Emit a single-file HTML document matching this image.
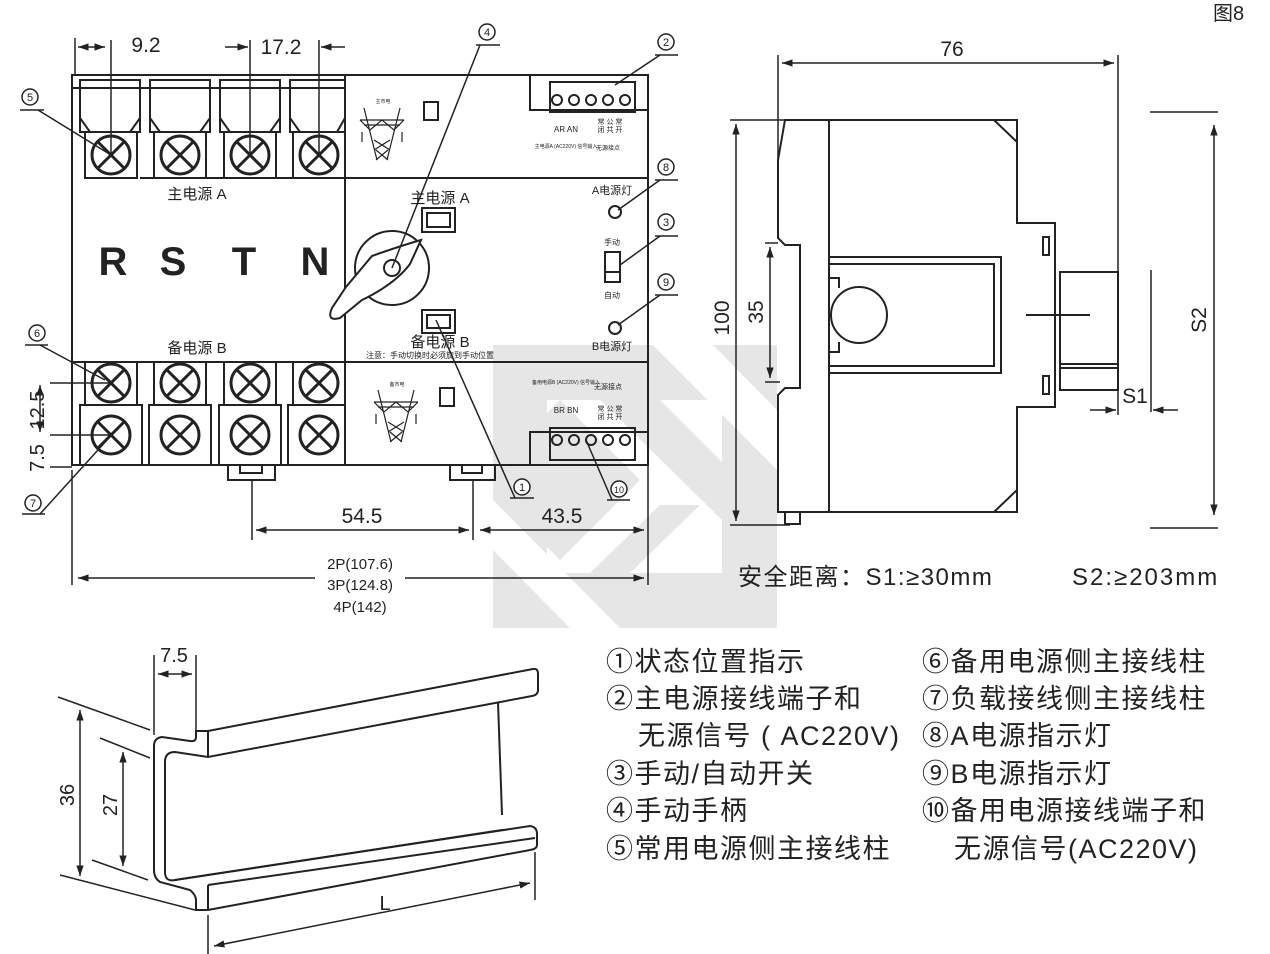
<!DOCTYPE html>
<html><head><meta charset="utf-8"><style>
html,body{margin:0;padding:0;background:#fff}
svg{display:block}
text{font-family:"Liberation Sans","Noto Sans CJK SC",sans-serif;fill:#222}
</style></head><body>
<svg width="1270" height="954" viewBox="0 0 1270 954" xmlns="http://www.w3.org/2000/svg">
<defs>
<marker id="a" viewBox="0 0 10 10" refX="10" refY="5" markerWidth="7" markerHeight="7" orient="auto-start-reverse"><path d="M0,1.5 L10,5 L0,8.5 z" fill="#222"/></marker>
<g id="term"><circle r="19" fill="none" stroke="#222" stroke-width="3"/><path d="M-13,-13 L13,13 M13,-13 L-13,13" stroke="#222" stroke-width="3"/></g>
<g id="tower" stroke="#222" stroke-width="1.2" fill="none"><path d="M-18,-22 L-5,30 M18,-22 L5,30 M-22,-10 L22,-10 M-18,-5 L18,-5 M-22,-10 L-12,0 L0,-10 L12,0 L22,-10 M-8,10 L8,20 M8,10 L-8,20 M-6,20 L6,30 M6,20 L-6,30 M-20,2 v10 M20,2 v10"/></g>
</defs>

<!-- watermark -->
<rect x="493" y="345" width="284" height="283" fill="#e6e6e6"/>
<path d="M547,400 L722,400 L722,573 L547,573 z" fill="#fff"/>
<path d="M653,345 L713,345 L777,410 L777,470 Z" fill="#fff"/>
<path d="M560,400 L640,480 L560,560 L547,547 L547,413 Z" fill="#e6e6e6"/>
<path d="M600,400 L660,400 L722,462 L722,520 Z" fill="#e6e6e6"/>
<path d="M590,573 L660,505 L700,505 L630,573 Z" fill="#e6e6e6"/>
<path d="M493,500 L620,628 L570,628 L493,550 Z" fill="#fff"/>

<text x="1213" y="20" font-size="20">图8</text>

<g stroke="#222" stroke-width="2" fill="none">
<!-- front panel -->
<rect x="72" y="75" width="576" height="390"/>
<line x1="345" y1="75" x2="345" y2="465"/>
<line x1="345" y1="178" x2="648" y2="178"/>
<line x1="140" y1="178" x2="345" y2="178"/>
<line x1="72" y1="362" x2="648" y2="362"/>
<line x1="72" y1="88" x2="345" y2="88"/>
<!-- top terminal housings -->
<g>
<rect x="80" y="80" width="60" height="52"/><rect x="150" y="80" width="60" height="52"/><rect x="220" y="80" width="60" height="52"/><rect x="290" y="80" width="55" height="52"/>
<path d="M80,118 L90,132 M140,118 L130,132 M150,118 L160,132 M210,118 L200,132 M220,118 L230,132 M280,118 L270,132 M290,118 L300,132 M345,118 L337,132"/>
<rect x="85" y="132" width="52" height="46"/><rect x="154" y="132" width="52" height="46"/><rect x="224" y="132" width="52" height="46"/><rect x="293" y="132" width="52" height="46"/>
</g>
<!-- bottom terminals -->
<rect x="85" y="362" width="52" height="43"/><rect x="154" y="362" width="52" height="43"/><rect x="224" y="362" width="52" height="43"/><rect x="293" y="362" width="52" height="43"/>
<rect x="80" y="405" width="62" height="60"/><rect x="149" y="405" width="62" height="60"/><rect x="219" y="405" width="62" height="60"/><rect x="288" y="405" width="57" height="60"/>
<!-- feet -->
<path d="M228,465 v15 h47 v-15 M240,465 v8 h22 v-8"/>
<path d="M450,465 v15 h45 v-15 M462,465 v8 h20 v-8"/>
<!-- right top connector -->
<rect x="530" y="75" width="118" height="35"/>
<rect x="550" y="82" width="85" height="30"/>
<rect x="530" y="432" width="118" height="33"/>
<rect x="550" y="428" width="85" height="32"/>
<!-- windows -->
<rect x="422" y="208" width="33" height="24"/><rect x="427" y="213" width="23" height="14"/>
<rect x="422" y="310" width="33" height="23"/><rect x="427" y="315" width="23" height="13"/>
<!-- knob -->
<circle cx="392" cy="268" r="37"/>
<path d="M421,240 Q400,246 372,256 L346,287 L332,308 Q326,322 340,318 L362,300 Q395,284 410,264 Z" fill="#fff"/>
<circle cx="392" cy="268" r="8"/>
<!-- indicators -->
<circle cx="615" cy="212" r="6"/><circle cx="615" cy="328" r="6"/>
<rect x="605" y="252" width="15" height="30"/><line x1="605" y1="272" x2="620" y2="272"/>
<rect x="424" y="102" width="14" height="18"/><rect x="440" y="388" width="14" height="18"/>
</g>
<g fill="none" stroke="#222" stroke-width="2">
<circle cx="557" cy="100" r="5"/><circle cx="574" cy="100" r="5"/><circle cx="591" cy="100" r="5"/><circle cx="608" cy="100" r="5"/><circle cx="625" cy="100" r="5"/>
<circle cx="557" cy="440" r="5"/><circle cx="574" cy="440" r="5"/><circle cx="591" cy="440" r="5"/><circle cx="608" cy="440" r="5"/><circle cx="625" cy="440" r="5"/>
</g>
<use href="#term" x="111" y="155"/><use href="#term" x="180" y="155"/><use href="#term" x="250" y="155"/><use href="#term" x="319" y="155"/>
<use href="#term" x="111" y="383"/><use href="#term" x="180" y="383"/><use href="#term" x="250" y="383"/><use href="#term" x="319" y="383"/>
<use href="#term" x="111" y="435"/><use href="#term" x="180" y="435"/><use href="#term" x="250" y="435"/><use href="#term" x="319" y="435"/>
<use href="#tower" x="382" y="130"/><use href="#tower" x="396" y="412"/>

<text x="113" y="275" font-size="40" font-weight="bold" text-anchor="middle">R</text>
<text x="173" y="275" font-size="40" font-weight="bold" text-anchor="middle">S</text>
<text x="244" y="275" font-size="40" font-weight="bold" text-anchor="middle">T</text>
<text x="315" y="275" font-size="40" font-weight="bold" text-anchor="middle">N</text>
<text x="197" y="199" font-size="15" text-anchor="middle">主电源 A</text>
<text x="197" y="353" font-size="15" text-anchor="middle">备电源 B</text>
<text x="440" y="203" font-size="15" text-anchor="middle">主电源 A</text>
<text x="440" y="347" font-size="15" text-anchor="middle">备电源 B</text>
<text x="430" y="358" font-size="8" text-anchor="middle">注意：手动切换时必须旋到手动位置</text>
<text x="612" y="194" font-size="11" text-anchor="middle">A电源灯</text>
<text x="612" y="350" font-size="11" text-anchor="middle">B电源灯</text>
<text x="612" y="245" font-size="8" text-anchor="middle">手动</text>
<text x="612" y="298" font-size="8" text-anchor="middle">自动</text>
<text x="566" y="132" font-size="8" text-anchor="middle">AR AN</text>
<text x="610" y="124" font-size="7" text-anchor="middle">常 公 常</text>
<text x="610" y="132" font-size="7" text-anchor="middle">闭 共 开</text>
<text x="566" y="148" font-size="5" text-anchor="middle">主电源A (AC220V) 信号输入</text>
<text x="608" y="150" font-size="6" text-anchor="middle">无源接点</text>
<text x="566" y="413" font-size="8" text-anchor="middle">BR BN</text>
<text x="610" y="411" font-size="7" text-anchor="middle">常 公 常</text>
<text x="610" y="419" font-size="7" text-anchor="middle">闭 共 开</text>
<text x="566" y="384" font-size="5" text-anchor="middle">备用电源B (AC220V) 信号输入</text>
<text x="608" y="389" font-size="7" text-anchor="middle">无源接点</text>
<text x="383" y="103" font-size="5" text-anchor="middle">主市电</text>
<text x="397" y="386" font-size="5" text-anchor="middle">备市电</text>

<!-- front dims -->
<g stroke="#222" stroke-width="1.5" fill="none">
<line x1="75" y1="38" x2="75" y2="75"/><line x1="111" y1="40" x2="111" y2="155"/>
<line x1="78" y1="47" x2="105" y2="47" marker-end="url(#a)" marker-start="url(#a)"/>
<line x1="250" y1="40" x2="250" y2="155"/><line x1="319" y1="40" x2="319" y2="155"/>
<line x1="225" y1="47" x2="248" y2="47" marker-end="url(#a)"/><line x1="345" y1="47" x2="321" y2="47" marker-end="url(#a)"/>
<line x1="50" y1="383" x2="111" y2="383"/><line x1="50" y1="435" x2="111" y2="435"/>
<line x1="50" y1="467" x2="72" y2="467"/>
<line x1="252" y1="480" x2="252" y2="540"/><line x1="473" y1="480" x2="473" y2="540"/><line x1="648" y1="465" x2="648" y2="585"/><line x1="72" y1="470" x2="72" y2="585"/>
<line x1="256" y1="530" x2="469" y2="530" marker-end="url(#a)" marker-start="url(#a)"/>
<line x1="480" y1="530" x2="644" y2="530" marker-end="url(#a)" marker-start="url(#a)"/>
<line x1="78" y1="578" x2="315" y2="578" marker-start="url(#a)"/><line x1="405" y1="578" x2="644" y2="578" marker-end="url(#a)"/>
<!-- callouts -->
<line x1="480" y1="45" x2="392" y2="268"/><line x1="476" y1="45" x2="500" y2="45"/>
<line x1="660" y1="55" x2="615" y2="85"/><line x1="655" y1="55" x2="678" y2="55"/>
<line x1="38" y1="110" x2="111" y2="155"/><line x1="20" y1="110" x2="44" y2="110"/>
<line x1="660" y1="180" x2="618" y2="210"/><line x1="655" y1="180" x2="678" y2="180"/>
<line x1="660" y1="236" x2="620" y2="265"/><line x1="655" y1="236" x2="678" y2="236"/>
<line x1="660" y1="295" x2="618" y2="325"/><line x1="655" y1="295" x2="678" y2="295"/>
<line x1="40" y1="345" x2="105" y2="380"/><line x1="25" y1="345" x2="48" y2="345"/>
<line x1="40" y1="514" x2="107" y2="440"/><line x1="22" y1="514" x2="45" y2="514"/>
<line x1="515" y1="498" x2="436" y2="320"/><line x1="510" y1="498" x2="534" y2="498"/>
<line x1="612" y1="500" x2="586" y2="440"/><line x1="607" y1="500" x2="630" y2="500"/>
<line x1="40" y1="385" x2="40" y2="432" marker-start="url(#a)" marker-end="url(#a)"/>
</g>
<g fill="#fff" stroke="#222" stroke-width="1.5">
<circle cx="487" cy="32" r="8"/><circle cx="666" cy="42" r="8"/><circle cx="30" cy="97" r="8"/><circle cx="666" cy="167" r="8"/><circle cx="666" cy="222" r="8"/><circle cx="666" cy="282" r="8"/><circle cx="37" cy="333" r="8"/><circle cx="33" cy="503" r="8"/><circle cx="522" cy="487" r="8"/><circle cx="619" cy="489" r="8"/>
</g>
<g font-size="11" text-anchor="middle">
<text x="487" y="36">4</text><text x="666" y="46">2</text><text x="30" y="101">5</text><text x="666" y="171">8</text><text x="666" y="226">3</text><text x="666" y="286">9</text><text x="37" y="337">6</text><text x="33" y="507">7</text><text x="522" y="491">1</text><text x="619" y="493" font-size="9">10</text>
</g>
<text x="146" y="52" font-size="21" text-anchor="middle">9.2</text>
<text x="281" y="54" font-size="21" text-anchor="middle">17.2</text>
<text x="362" y="523" font-size="21" text-anchor="middle">54.5</text>
<text x="562" y="523" font-size="21" text-anchor="middle">43.5</text>
<text x="360" y="569" font-size="15" text-anchor="middle">2P(107.6)</text>
<text x="360" y="590" font-size="15" text-anchor="middle">3P(124.8)</text>
<text x="360" y="612" font-size="15" text-anchor="middle">4P(142)</text>
<text transform="translate(44,410) rotate(-90)" font-size="20" text-anchor="middle">12.5</text>
<text transform="translate(44,458) rotate(-90)" font-size="20" text-anchor="middle">7.5</text>

<!-- side view -->
<g stroke="#222" stroke-width="2" fill="none">
<path d="M785,120 L1017,120 L1017,223 L1055,223 L1055,407 L1017,407 L1017,512 L778,512 L778,395 L785,388 L800,388 L800,245 L785,245 L778,238 L778,160 Z"/>
<line x1="829" y1="120" x2="829" y2="512"/>
<path d="M994,120 L1017,142 M994,512 L1017,490"/>
<path d="M829,257 L1001,257 L1001,373 L829,373 M829,264 L994,264 L994,366 L829,366"/>
<path d="M829,278 h10 v10 M829,352 h10 v-10"/>
<circle cx="859" cy="315" r="28"/>
<rect x="1043" y="237" width="6" height="18"/><rect x="1043" y="376" width="6" height="18"/>
<rect x="1060" y="272" width="58" height="118"/><line x1="1060" y1="364" x2="1118" y2="364"/><line x1="1060" y1="368" x2="1118" y2="368"/>
<line x1="1026" y1="315" x2="1090" y2="315"/>
<rect x="785" y="512" width="15" height="12"/>
</g>
<g stroke="#222" stroke-width="1.5" fill="none">
<line x1="778" y1="55" x2="778" y2="160"/><line x1="1118" y1="55" x2="1118" y2="272"/>
<line x1="782" y1="63" x2="1114" y2="63" marker-start="url(#a)" marker-end="url(#a)"/>
<line x1="730" y1="120" x2="785" y2="120"/><line x1="730" y1="525" x2="790" y2="525"/>
<line x1="736" y1="124" x2="736" y2="521" marker-start="url(#a)" marker-end="url(#a)"/>
<line x1="765" y1="243" x2="778" y2="243"/><line x1="765" y1="382" x2="780" y2="382"/>
<line x1="770" y1="247" x2="770" y2="378" marker-start="url(#a)" marker-end="url(#a)"/>
<line x1="1150" y1="112" x2="1218" y2="112"/><line x1="1150" y1="528" x2="1218" y2="528"/>
<line x1="1214" y1="125" x2="1214" y2="515" marker-start="url(#a)" marker-end="url(#a)"/>
<line x1="1151" y1="270" x2="1151" y2="412"/><line x1="1118" y1="390" x2="1118" y2="415"/>
<line x1="1090" y1="410" x2="1116" y2="410" marker-end="url(#a)"/><line x1="1178" y1="410" x2="1153" y2="410" marker-end="url(#a)"/>
</g>
<text x="952" y="56" font-size="21" text-anchor="middle">76</text>
<text transform="translate(729,318) rotate(-90)" font-size="21" text-anchor="middle">100</text>
<text transform="translate(763,312) rotate(-90)" font-size="21" text-anchor="middle">35</text>
<text transform="translate(1206,320) rotate(-90)" font-size="21" text-anchor="middle">S2</text>
<text x="1135" y="403" font-size="21" text-anchor="middle">S1</text>
<text x="738" y="585" font-size="24" letter-spacing="1.5">安全距离：S1:≥30mm</text>
<text x="1072" y="585" font-size="24" letter-spacing="2">S2:≥203mm</text>

<!-- DIN rail -->
<g stroke="#222" stroke-width="2" fill="none">
<path d="M196,731 L208,731 L533,669 Q538,668 538,674 L538,690 Q538,695 532,696 L208,757 L175,752 Q165,752 165,762 L165,872 Q165,882 175,880 L530,826 Q537,827 537,834 L537,845 Q537,849 530,850 L208,910 L196,910 L196,900 Q196,895 190,890 L160,882 Q154,878 154,870 L154,746 Q154,738 162,737 L190,741 Q196,742 196,737 Z"/>
<line x1="208" y1="731" x2="208" y2="757"/><line x1="208" y1="885" x2="208" y2="910"/>
<line x1="498" y1="702" x2="502" y2="815"/>
<line x1="175" y1="880" x2="502" y2="830" />
<line x1="208" y1="885" x2="535" y2="838"/>
</g>
<g stroke="#222" stroke-width="1.5" fill="none">
<line x1="58" y1="697" x2="150" y2="730"/><line x1="100" y1="738" x2="150" y2="758"/><line x1="92" y1="860" x2="148" y2="880"/><line x1="60" y1="875" x2="195" y2="910"/>
<line x1="80" y1="710" x2="80" y2="876" marker-start="url(#a)" marker-end="url(#a)"/>
<line x1="123" y1="752" x2="123" y2="866" marker-start="url(#a)" marker-end="url(#a)"/>
<line x1="154" y1="655" x2="154" y2="735"/><line x1="196" y1="655" x2="196" y2="735"/>
<line x1="158" y1="674" x2="192" y2="674" marker-start="url(#a)" marker-end="url(#a)"/>
<line x1="208" y1="915" x2="208" y2="954"/><line x1="535" y1="852" x2="535" y2="900"/>
<line x1="214" y1="946" x2="530" y2="883" marker-start="url(#a)" marker-end="url(#a)"/>
</g>
<text x="174" y="662" font-size="20" text-anchor="middle">7.5</text>
<text transform="translate(74,795) rotate(-90)" font-size="20" text-anchor="middle">36</text>
<text transform="translate(117,805) rotate(-90)" font-size="20" text-anchor="middle">27</text>
<text x="385" y="910" font-size="20" text-anchor="middle">L</text>

<!-- legend -->
<g font-size="27" letter-spacing="1.5">
<text x="606" y="671">①状态位置指示</text>
<text x="606" y="708">②主电源接线端子和</text>
<text x="638" y="745">无源信号 ( AC220V)</text>
<text x="606" y="783">③手动/自动开关</text>
<text x="606" y="820">④手动手柄</text>
<text x="606" y="858">⑤常用电源侧主接线柱</text>
<text x="922" y="671">⑥备用电源侧主接线柱</text>
<text x="922" y="708">⑦负载接线侧主接线柱</text>
<text x="922" y="745">⑧A电源指示灯</text>
<text x="922" y="783">⑨B电源指示灯</text>
<text x="922" y="820">⑩备用电源接线端子和</text>
<text x="954" y="858">无源信号(AC220V)</text>
</g>
</svg>
</body></html>
